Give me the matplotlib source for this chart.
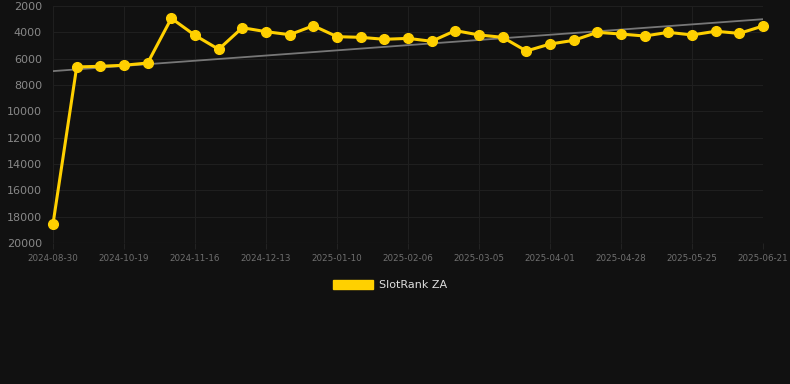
import numpy as np
import matplotlib
matplotlib.use("Agg")
import matplotlib.pyplot as plt

# rank per snapshot (lower is better, axis is inverted)
ranks = [18550, 6630, 6580, 6500, 6330, 2935, 4230, 5290, 3650, 3950, 4180,
         3500, 4330, 4380, 4530, 4460, 4680, 3870, 4200, 4380, 5420, 4890,
         4610, 4000, 4130, 4280, 4000, 4200, 3920, 4080, 3520]
tick_labels = ["2024-08-30", "2024-10-19", "2024-11-16", "2024-12-13",
               "2025-01-10", "2025-02-06", "2025-03-05", "2025-04-01",
               "2025-04-28", "2025-05-25", "2025-06-21"]
y_ticks = [2000, 4000, 6000, 8000, 10000, 12000, 14000, 16000, 18000, 20000]
series_name = "SlotRank ZA"

bg = "#111111"
gold = "#ffd000"

x = np.arange(len(ranks))
slope, icpt = np.polyfit(x, ranks, 1)
trend = slope * x + icpt

fig = plt.figure(figsize=(7.9, 3.84), dpi=100, facecolor=bg)
ax = fig.add_axes([0.0671, 0.3672, 0.8987, 0.6172], facecolor=bg)

ax.plot(x, trend, color="#777777", lw=1.3, zorder=2)
ax.plot(x, ranks, color=gold, lw=2.2, marker="o", ms=7, zorder=3,
        clip_on=False)

ax.set_xlim(0, len(ranks) - 1)
ax.set_ylim(20000, 2000)
ax.set_yticks(y_ticks)
ax.set_xticks(x[::3])
ax.set_xticklabels(tick_labels)

ax.grid(True, color="#1f1f1f", lw=0.8)
ax.set_axisbelow(True)
for s in ax.spines.values():
    s.set_visible(False)
ax.tick_params(axis="y", length=0, labelsize=8, labelcolor="#888888", pad=8)
ax.tick_params(axis="x", length=4, color="#222222", labelsize=6.3,
               labelcolor="#6f6f6f", pad=4)
ax.axhline(20000, color="#303030", lw=0.8)

# legend drawn as a filled box like the original
handle = plt.Rectangle((0, 0), 1, 1, color=gold)
leg = fig.legend([handle], [series_name], loc="center",
                 bbox_to_anchor=(0.4937, 0.258), frameon=False,
                 handlelength=3.6, handleheight=0.9, fontsize=8,
                 labelcolor="#dddddd", handletextpad=0.5)

fig.savefig("out.png", dpi=100, facecolor=bg)
